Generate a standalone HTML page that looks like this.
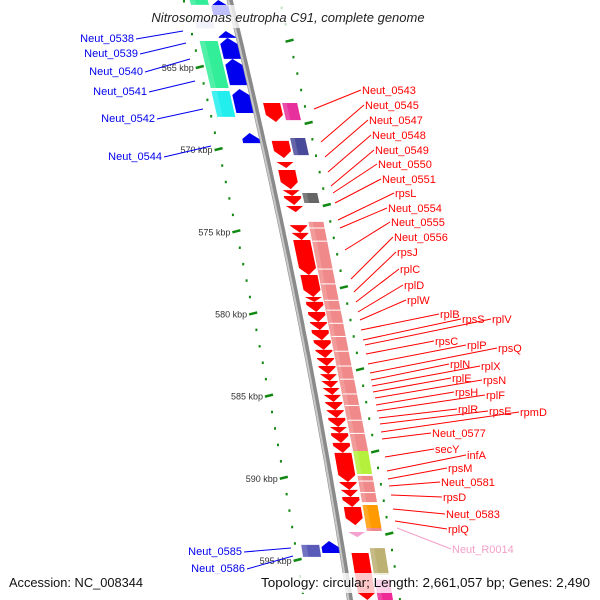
<!DOCTYPE html>
<html><head><meta charset="utf-8"><style>
html,body{margin:0;padding:0;background:#fff;}
svg{display:block;font-family:"Liberation Sans",sans-serif;}
</style></head><body>
<svg id="chart" width="600" height="600" viewBox="0 0 600 600" xmlns="http://www.w3.org/2000/svg">
<g id="rings"></g>
<g id="backbone"></g>
<g id="features"></g>
<g id="labels"></g>
<rect x="130" y="5" width="320" height="23" fill="#fff" opacity="0.75"/>
<text x="288" y="22" text-anchor="middle" font-size="13" font-style="italic" fill="#222">Nitrosomonas eutropha C91, complete genome</text>
<rect x="0" y="573" width="600" height="20" fill="#fff" opacity="0.78"/>
<text x="9" y="587" font-size="12.5" fill="#111" textLength="134" lengthAdjust="spacingAndGlyphs">Accession: NC_008344</text>
<text x="261" y="587" font-size="12.5" fill="#111" textLength="329" lengthAdjust="spacingAndGlyphs">Topology: circular; Length: 2,661,057 bp; Genes: 2,490</text>
</svg>
<script>
// ---- data (kbp) ----
const redStarts = [567.19,569.50,570.78,571.27,572.49,572.85,573.46,574.62,575.10,575.53,577.66,579.00,579.30,579.91,580.52,581.01,581.62,582.22,582.71,583.20,583.69,584.11,584.54,584.96,585.39,585.88,586.36,586.91,587.28,587.88,588.49,590.26,590.74,591.17,591.78,594.58];
const redEnds   = [568.35,570.54,571.15,572.43,572.85,573.40,573.83,575.10,575.53,577.66,579.00,579.30,579.91,580.52,581.01,581.62,582.22,582.71,583.20,583.69,584.11,584.54,584.96,585.39,585.88,586.36,586.91,587.28,587.88,588.49,590.26,590.74,591.17,591.78,592.88,597.44];
const blueStarts = [560.92,562.81,563.23,564.51,566.34,569.02,593.85];
const blueEnds   = [561.84,563.23,564.51,566.10,567.80,569.63,594.58];
const rightBoxStarts = [567.19,569.32,572.67,574.43,588.37,589.89,591.66,593.06,594.28,596.2];
const rightBoxEnds   = [568.23,570.36,573.28,588.37,589.77,591.48,593.06,593.24,595.92,597.6];
const rightBoxColors = ['#e8309c','#4a4a9a','#666666','#f08a8a','#b4f03c','#f08a8a','#ff9a00','#f08a8a','#bcb072','#ee2a96'];
const salmonSeps = [574.8,575.6,577.3,578.2,579.2,579.8,580.6,581.4,582.3,583.2,584.0,584.9,585.6,586.5,587.3,590.2,590.9];
const leftBoxStarts = [560.92,562.14,563.42,566.46,594.09];
const leftBoxEnds   = [561.22,562.63,566.28,568.04,594.82];
const leftBoxColors = ['#33ee99','#c8c8f0','#33ee99','#22eeee','#5a5ab8'];
const pinkStarts = [593.30];
const pinkEnds = [593.61];
const tickKbp = [565,570,575,580,585,590,595];
const tickLabels = ['565 kbp','570 kbp','575 kbp','580 kbp','585 kbp','590 kbp','595 kbp'];

const NS='http://www.w3.org/2000/svg';
function Y(k){return 67+(k-565)*16.43;}
function bx(y){return 229.7+0.2448*y-0.0000739*y*y;}
function mk(tag,attrs,parent){const e=document.createElementNS(NS,tag);for(const a in attrs)e.setAttribute(a,attrs[a]);parent.appendChild(e);return e;}
function pt(y,o){return (bx(y)+o).toFixed(1)+','+y.toFixed(1);}

const rings=document.getElementById('rings');
const bb=document.getElementById('backbone');
const feats=document.getElementById('features');
const labs=document.getElementById('labels');

let d='';for(let y=-5;y<=605;y+=5){d+=(y===-5?'M':'L')+(bx(y)).toFixed(1)+','+y;}
let p=mk('path',{d:d,stroke:'#8a8a8a','stroke-width':6,fill:'none'},bb);


d='';for(let y=-5;y<=605;y+=5){d+=(y===-5?'M':'L')+(bx(y)-1.5).toFixed(1)+','+y;}
p=mk('path',{d:d,stroke:'#c8c8c8','stroke-width':2,fill:'none'},bb);



for(let k=559;k<=598;k++){
  const y=Y(k);const x=bx(y)-46;
  const major=(k%5===0);
  const r=mk('line',{x1:x-(major?4:1),y1:y+(major?1:0),x2:x+(major?4:1),y2:y-(major?1:0),stroke:'#118811','stroke-width':2.5},rings);
  
  
}
for(let k=559.4;k<=598;k+=1){
  const y=Y(k);const x=bx(y)+50;
  const major=(Math.abs(((k-563.4)%5+5)%5)<0.01);
  const r=mk('line',{x1:x-(major?4:1),y1:y+(major?1:0),x2:x+(major?4:1),y2:y-(major?1:0),stroke:'#118811','stroke-width':2.5},rings);
  
  
}
tickKbp.forEach((k,i)=>{
  const y=Y(k);const x=bx(y)-52;
  const t=mk('text',{x:x,y:y+4,'text-anchor':'end','font-size':9,fill:'#333'},rings);
  t.textContent=tickLabels[i];
  
  
});

function box(k1,k2,o1,o2,color,name){
  const y1=Y(k1),y2=Y(k2);
  const e=mk('polygon',{points:[pt(y1,o1),pt(y1,o2),pt(y2,o2),pt(y2,o1)].join(' '),fill:color},feats);
  
  
  const s=mk('polygon',{points:[pt(y1,o1),pt(y1,o1+(o2-o1)*0.3),pt(y2,o1+(o2-o1)*0.3),pt(y2,o1)].join(' '),fill:'#fff',opacity:0.15},feats);
  
  
}
function arrowDown(k1,k2,o1,o2,color,name){
  const y1=Y(k1),y2=Y(k2);const h=Math.min(7,y2-y1);const yh=y2-h;const c=(o1+o2)/2;
  const e=mk('polygon',{points:[pt(y1,o1),pt(y1,o2),pt(yh,o2),pt(y2,c),pt(yh,o1)].join(' '),fill:color},feats);
  
  
}
function arrowUp(k1,k2,o1,o2,color,name){
  const y1=Y(k1),y2=Y(k2);const h=Math.min(6,y2-y1);const yh=y1+h;const c=(o1+o2)/2;
  const e=mk('polygon',{points:[pt(y1,c),pt(yh,o2),pt(y2,o2),pt(y2,o1),pt(yh,o1)].join(' '),fill:color},feats);
  
  
}
rightBoxStarts.forEach((s,i)=>box(s,rightBoxEnds[i],28,43,rightBoxColors[i],'right-track-feature'));
salmonSeps.forEach(k=>{const y=Y(k);const l=mk('line',{x1:bx(y)+28,y1:y,x2:bx(y)+43,y2:y,stroke:'#fff','stroke-width':1},feats);
  
  });
leftBoxStarts.forEach((s,i)=>box(s,leftBoxEnds[i],-40,-22,leftBoxColors[i],'left-track-feature'));
redStarts.forEach((s,i)=>arrowDown(s,redEnds[i],9,26,'#ff0000','forward-gene'));
pinkStarts.forEach((s,i)=>arrowDown(s,pinkEnds[i],9,26,'#f4a0d0','rna-gene'));
blueStarts.forEach((s,i)=>arrowUp(s,blueEnds[i],-20,-3,'#0000ee','reverse-gene'));

const rText=['Neut_0543','Neut_0545','Neut_0547','Neut_0548','Neut_0549','Neut_0550','Neut_0551','rpsL','Neut_0554','Neut_0555','Neut_0556','rpsJ','rplC','rplD','rplW','rplB','rpsS','rplV','rpsC','rplP','rpsQ','rplN','rplX','rplE','rpsN','rpsH','rplF','rplR','rpsE','rpmD','Neut_0577','secY','infA','rpsM','Neut_0581','rpsD','Neut_0583','rplQ','Neut_R0014'];
const rX=[362,365,369,372,375,378,382,395,388,391,394,397,400,404,407,440,462,492,435,467,498,450,481,452,483,455,486,458,489,520,432,435,467,448,441,443,446,448,452];
const rY=[94,109,124,139,154,168,183,197,212,226,241,256,273,289,304,318,323,323,345,349,352,368,370,382,384,396,399,413,415,416,437,453,459,472,486,501,518,533,553];
const aX=[314,321,325,328,331,333,335,338,340,345,351,354,356,358,360,361,363,365,366,368,370,371,372,373,375,376,377,379,380,381,382,385,387,388,389,391,393,395,397];
const aY=[109,142,157,172,186,193,203,220,228,250,279,292,302,312,320,330,340,345,354,364,373,380,386,392,398,405,411,418,424,432,439,457,471,479,486,495,509,521,528];
rText.forEach((t,i)=>{
  const col=t==='Neut_R0014'?'#f4a0c8':'#ff0000';
  const l=mk('line',{x1:aX[i],y1:aY[i],x2:rX[i]-1,y2:rY[i]-4,stroke:col,'stroke-width':1},labs);
  
  
  const e=mk('text',{x:rX[i],y:rY[i],'font-size':11,fill:col},labs);
  e.textContent=t;
  
  
});
const lText=['Neut_0538','Neut_0539','Neut_0540','Neut_0541','Neut_0542','Neut_0544','Neut_0585','Neut_0586'];
const lX=[134,138,143,147,155,162,242,245];
const lY=[42,57,75,95,122,160,555,572];
const lAX=[183,186,190,195,203,211,291,293];
const lAY=[31,43,59,81,109,146,548,556];
lText.forEach((t,i)=>{
  const l=mk('line',{x1:lX[i]+2,y1:lY[i]-3,x2:lAX[i],y2:lAY[i],stroke:'#0000ee','stroke-width':1},labs);
  
  
  const e=mk('text',{x:lX[i],y:lY[i],'text-anchor':'end','font-size':11,fill:'#0000ee'},labs);
  e.textContent=t;
  
  
});
</script>
</body></html>
